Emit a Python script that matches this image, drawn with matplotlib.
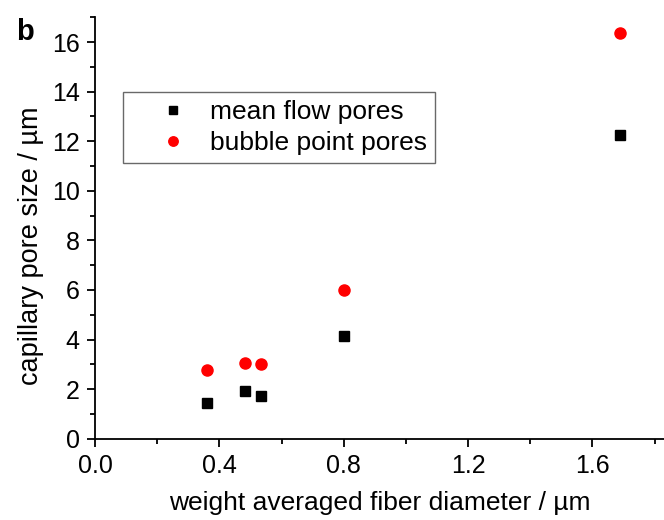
import matplotlib.pyplot as plt
from matplotlib.ticker import MultipleLocator

plt.rcParams['font.family'] = ['Liberation Sans', 'DejaVu Sans']

# fiber diameters (um) and measured pore sizes (um)
fiber_diameter = [0.36, 0.482, 0.535, 0.80, 1.688]
mean_flow = [1.45, 1.92, 1.71, 4.14, 12.27]
bubble_point = [2.79, 3.07, 3.03, 6.01, 16.38]

fig = plt.figure(figsize=(6.64, 5.2), dpi=100)
ax = fig.add_axes([0.143, 0.1563, 0.857, 0.8104])

ax.plot(fiber_diameter, mean_flow, linestyle='none', marker='s', markersize=7,
        color='black', label='mean flow pores')
ax.plot(fiber_diameter, bubble_point, linestyle='none', marker='o', markersize=8,
        color='red', markeredgecolor='red', label='bubble point pores')

ax.set_xlim(0, 1.83)
ax.set_ylim(0, 17)
ax.xaxis.set_major_locator(MultipleLocator(0.4))
ax.xaxis.set_minor_locator(MultipleLocator(0.2))
ax.yaxis.set_major_locator(MultipleLocator(2))
ax.yaxis.set_minor_locator(MultipleLocator(1))
ax.xaxis.set_major_formatter(plt.FormatStrFormatter('%.1f'))

for side in ['top', 'right']:
    ax.spines[side].set_visible(False)
for side in ['left', 'bottom']:
    ax.spines[side].set_linewidth(1.3)

ax.tick_params(which='major', direction='out', length=6, width=1.3, labelsize=18,
               colors='black')
ax.tick_params(which='minor', direction='out', length=3.5, width=1.3)
ax.tick_params(axis='x', pad=5)
ax.tick_params(axis='y', pad=5)

ax.set_xlabel('weight averaged fiber diameter / µm', fontsize=19, labelpad=9)
ax.set_ylabel('capillary pore size / µm', fontsize=19.5)
ax.yaxis.set_label_coords(-0.09, 0.457)

leg = ax.legend(loc='upper left', bbox_to_anchor=(0.049, 0.822), fontsize=19,
                frameon=True, fancybox=False, edgecolor='#444444',
                handletextpad=-0.2, borderpad=0.3, labelspacing=0.26,
                handlelength=3.2, markerscale=0.85, borderaxespad=0)
leg.get_frame().set_linewidth(1.0)

fig.text(0.025, 0.923, 'b', fontsize=21, fontweight='bold')

fig.savefig('out.png', dpi=100)
